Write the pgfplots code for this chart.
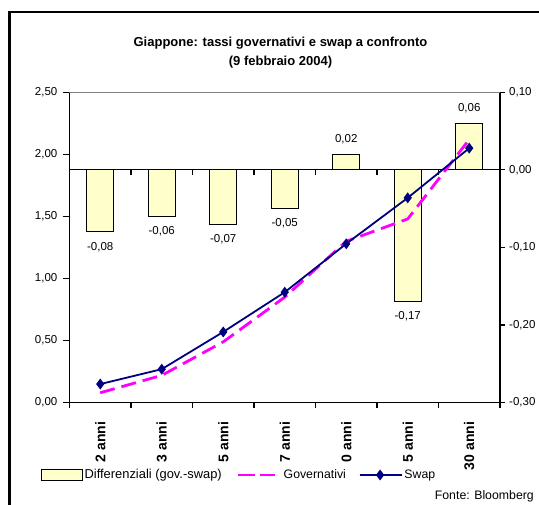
\documentclass[border=0pt]{standalone}
\usepackage{fontspec}
\setmainfont{Liberation Sans}
\usepackage{pgfplots}
\pgfplotsset{compat=1.18}

\definecolor{barfill}{RGB}{255,255,204}
\definecolor{govmag}{RGB}{255,0,255}
\definecolor{swapnavy}{RGB}{0,0,128}

\tikzset{
  commaformat/.style={/pgf/number format/fixed, /pgf/number format/fixed zerofill,
    /pgf/number format/precision=2, /pgf/number format/use comma,
    /pgf/number format/assume math mode=true},
}

\begin{document}
\begin{tikzpicture}
\path[use as bounding box] (0pt,0pt) rectangle (539pt,505pt);
% outer frame (runs off the right and bottom edges)
\draw[line width=2.5pt] (9.5pt,-10pt) -- (9.5pt,493pt) -- (550pt,493pt);

% title
\node[font=\bfseries\fontsize{13}{19}\selectfont, align=center] at (280.5pt,452.2pt)
  {Giappone: tassi governativi e swap a confronto\\(9 febbraio 2004)};

% spreads: bars on the secondary (right) axis
\begin{axis}[
  at={(69.5pt,102.3pt)}, anchor=south west,
  scale only axis, width=430.5pt, height=310.4pt,
  xmin=-0.5, xmax=6.5, ymin=-0.3, ymax=0.1,
  axis y line*=right, axis x line*=middle,
  axis line style={line width=1.2pt},
  every tick/.style={black, line width=1.2pt},
  ytick={-0.3,-0.2,-0.1,0,0.1},
  xtick={0.5,1.5,...,5.5}, xticklabels={},
  xtick align=outside, ytick align=outside,
  major tick length=5pt,
  /pgf/number format/assume math mode=true,
  yticklabel style={commaformat, font=\fontsize{11.5}{12}\selectfont, inner sep=0pt},
  yticklabel shift=4pt,
  ybar, bar width=27pt,
  nodes near coords, nodes near coords align={vertical},
  every node near coord/.append style={commaformat, font=\fontsize{11.5}{12}\selectfont,
    inner sep=9.5pt, black},
]
\addplot[fill=barfill, draw=black, line width=1pt] coordinates {
  (0,-0.08) (1,-0.06) (2,-0.07) (3,-0.05) (4,0.02) (5,-0.17) (6,0.06)};
\end{axis}

% yields: lines on the primary (left) axis
\begin{axis}[
  at={(69.5pt,102.3pt)}, anchor=south west,
  scale only axis, width=430.5pt, height=310.4pt,
  xmin=-0.5, xmax=6.5, ymin=0, ymax=2.5,
  axis y line*=left, axis x line*=bottom,
  axis line style={line width=1.2pt},
  every tick/.style={black, line width=1.2pt},
  xtick={0,...,6},
  xticklabels={2 anni,3 anni,5 anni,7 anni,0 anni,5 anni,30 anni},
  minor xtick={-0.5,0.5,...,6.5},
  major x tick style={draw=none},
  tick align=outside, major tick length=6pt, minor tick length=5pt,
  ytick={0,0.5,...,2.5},
  /pgf/number format/assume math mode=true,
  yticklabel style={commaformat, font=\fontsize{11.5}{12}\selectfont, inner sep=0pt},
  yticklabel shift=6pt,
  xticklabel style={font=\bfseries\fontsize{14}{14}\selectfont, rotate=90, anchor=east,
    inner sep=0pt},
  xticklabel shift=13pt,
  legend columns=3,
  legend style={at={(-0.0671,-0.2329)}, anchor=west, draw=none, fill=none,
    inner sep=0pt, outer sep=0pt, font=\fontsize{12.3}{13}\selectfont,
    nodes={inner sep=2pt},
    /tikz/column 2/.style={column sep=12.6pt},
    /tikz/column 4/.style={column sep=10.8pt}},
  legend cell align=left,
]
\draw[gray, line width=1pt] (rel axis cs:0,1) -- (rel axis cs:1,1);
\addlegendimage{legend image code/.code={
  \draw[fill=barfill, draw=black, line width=1pt] (0pt,-5.5pt) rectangle (41pt,5.5pt);}}
\addlegendentry{\fontsize{12.9}{13}\selectfont Differenziali (gov.-swap)}
\addplot[govmag, line width=2.8pt, dash pattern=on 15pt off 7pt,
  legend image code/.code={
    \draw[govmag, line width=2.8pt, dash pattern=on 17pt off 8.5pt] (0pt,0pt) -- (36pt,0pt);
    \path (0pt,0pt) -- (42.5pt,0pt);}]
  coordinates {(0,0.08) (1,0.22) (2,0.49) (3,0.85) (4,1.30) (5,1.48) (6,2.12)};
\addlegendentry{Governativi}
\addplot[swapnavy, line width=1.8pt, mark=diamond*, mark size=4pt,
  mark options={solid, fill=swapnavy},
  legend image code/.code={
    \draw[mark repeat=2, mark phase=2] plot coordinates {(0pt,0pt) (20.5pt,0pt) (41pt,0pt)};
    \path (0pt,0pt) -- (42pt,0pt);}]
  coordinates {(0,0.15) (1,0.27) (2,0.57) (3,0.89) (4,1.28) (5,1.65) (6,2.05)};
\addlegendentry{Swap}
\end{axis}

\node[anchor=base east, font=\fontsize{12.3}{13}\selectfont, inner sep=0pt]
  at (534pt,5pt) {Fonte: Bloomberg};
\end{tikzpicture}
\end{document}
